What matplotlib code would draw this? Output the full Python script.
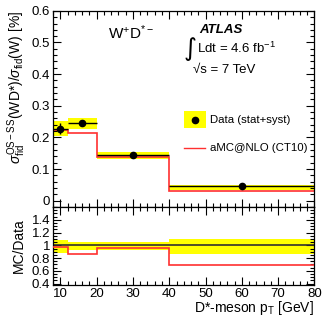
import matplotlib
matplotlib.use("Agg")
import matplotlib.pyplot as plt
import numpy as np
from matplotlib.ticker import MultipleLocator, FuncFormatter
from matplotlib.patches import Rectangle

plt.rcParams["font.family"] = ["Liberation Sans", "DejaVu Sans"]
plt.rcParams["mathtext.fontset"] = "custom"
plt.rcParams["mathtext.rm"] = "Liberation Sans"
plt.rcParams["mathtext.it"] = "Liberation Sans:italic"

# bins in D*-meson pT [GeV]
bin_edges = [8, 12, 20, 40, 80]
bin_centers = [10, 16, 30, 60]

# measured ratio [%] with stat and stat+syst uncertainties
data_vals = [0.228, 0.245, 0.143, 0.045]
data_stat = [0.018, 0.008, 0.004, 0.003]
band_lo = [0.206, 0.226, 0.132, 0.035]
band_hi = [0.252, 0.260, 0.155, 0.051]

# aMC@NLO (CT10) prediction
mc_vals = [0.225, 0.214, 0.1375, 0.032]

# MC/Data ratio panel
ratio_band_lo = [0.88, 0.92, 0.92, 0.86]
ratio_band_hi = [1.08, 1.05, 1.05, 1.10]
ratio_mc = [0.975, 0.87, 0.96, 0.69]

RED = "#ff3030"
YEL = "#ffff00"
FS = 9.5

fig = plt.figure(figsize=(3.32, 3.19), dpi=100)
ax = fig.add_axes([0.160, 0.351, 0.787, 0.615])
axr = fig.add_axes([0.160, 0.107, 0.787, 0.244], sharex=ax)

edges = np.array(bin_edges)
lo = edges[:-1]
hi = edges[1:]

# top panel
for i in range(len(bin_centers)):
    ax.add_patch(Rectangle((lo[i], band_lo[i]), hi[i] - lo[i], band_hi[i] - band_lo[i],
                           facecolor=YEL, edgecolor="none", zorder=1))
ax.stairs(mc_vals, edges, color=RED, linewidth=1.2, baseline=None, zorder=2)
ax.errorbar(bin_centers, data_vals, yerr=data_stat,
            xerr=[np.array(bin_centers) - lo, hi - np.array(bin_centers)],
            fmt="o", color="black", markersize=4.5, elinewidth=1.0, capsize=0, zorder=3)

ax.set_xlim(8, 80)
ax.set_ylim(-0.02, 0.6)
ax.yaxis.set_major_locator(MultipleLocator(0.1))
ax.yaxis.set_minor_locator(MultipleLocator(0.02))
ax.yaxis.set_major_formatter(
    FuncFormatter(lambda v, _: f"{v:.1f}".rstrip("0").rstrip(".") if abs(v) > 1e-9 else "0"))
ax.xaxis.set_major_locator(MultipleLocator(10))
ax.xaxis.set_minor_locator(MultipleLocator(2))
ax.tick_params(axis="x", labelbottom=False)
ax.set_ylabel(r"$\sigma_{\rm fid}^{\rm OS-SS}$(WD*)/$\sigma_{\rm fid}$(W) [%]",
              fontsize=FS + 0.5, loc="top", labelpad=3)

ax.text(0.21, 0.89, r"W$^{+}$D$^{*-}$", transform=ax.transAxes, fontsize=11,
        va="center")
ax.text(0.56, 0.90, "ATLAS", transform=ax.transAxes, fontsize=9.5,
        fontweight="bold", fontstyle="italic", va="center")
ax.text(0.50, 0.805, "\u222b", transform=ax.transAxes, fontsize=18,
        family="DejaVu Sans", va="center")
ax.text(0.55, 0.81, r"Ldt = 4.6 fb$^{-1}$", transform=ax.transAxes, fontsize=9.5,
        va="center")
ax.text(0.535, 0.70, "\u221as = 7 TeV", transform=ax.transAxes, fontsize=9.5,
        va="center")

# legend drawn by hand as in the ROOT style
ax.add_patch(Rectangle((0.50, 0.403), 0.085, 0.087, transform=ax.transAxes,
                       facecolor=YEL, edgecolor="none"))
ax.plot([0.5425], [0.446], "o", color="black", markersize=4.5, transform=ax.transAxes)
ax.text(0.60, 0.446, "Data (stat+syst)", transform=ax.transAxes, fontsize=8.2,
        va="center")
ax.plot([0.50, 0.58], [0.30, 0.30], color=RED, lw=1.0, transform=ax.transAxes)
ax.text(0.60, 0.30, "aMC@NLO (CT10)", transform=ax.transAxes, fontsize=8.2,
        va="center")

# ratio panel
for i in range(len(bin_centers)):
    axr.add_patch(Rectangle((lo[i], ratio_band_lo[i]), hi[i] - lo[i],
                            ratio_band_hi[i] - ratio_band_lo[i],
                            facecolor=YEL, edgecolor="none", zorder=1))
axr.axhline(1.0, color="#303030", lw=1.2, zorder=2)
axr.stairs(ratio_mc, edges, color=RED, linewidth=1.2, baseline=None, zorder=3)
axr.set_ylim(0.38, 1.6)
axr.yaxis.set_minor_locator(MultipleLocator(0.05))
axr.set_yticks([0.4, 0.6, 0.8, 1.0, 1.2, 1.4])
axr.set_yticklabels(["0.4", "0.6", "0.8", "1", "1.2", "1.4"])
axr.set_ylabel("MC/Data", fontsize=FS + 0.5, labelpad=4)
fig.text(0.947, 0.036, r"D*-meson p$_{\rm T}$ [GeV]", fontsize=FS + 0.5,
         ha="right", va="center")

for a in (ax, axr):
    a.tick_params(which="both", direction="in", top=True, right=True,
                  labelsize=FS, width=0.8)
    a.tick_params(which="major", length=6)
    a.tick_params(which="minor", length=3)
    a.tick_params(axis="x", pad=2)
    a.tick_params(axis="y", pad=2)
    for s in a.spines.values():
        s.set_linewidth(0.9)

fig.savefig("out.png", dpi=100)
